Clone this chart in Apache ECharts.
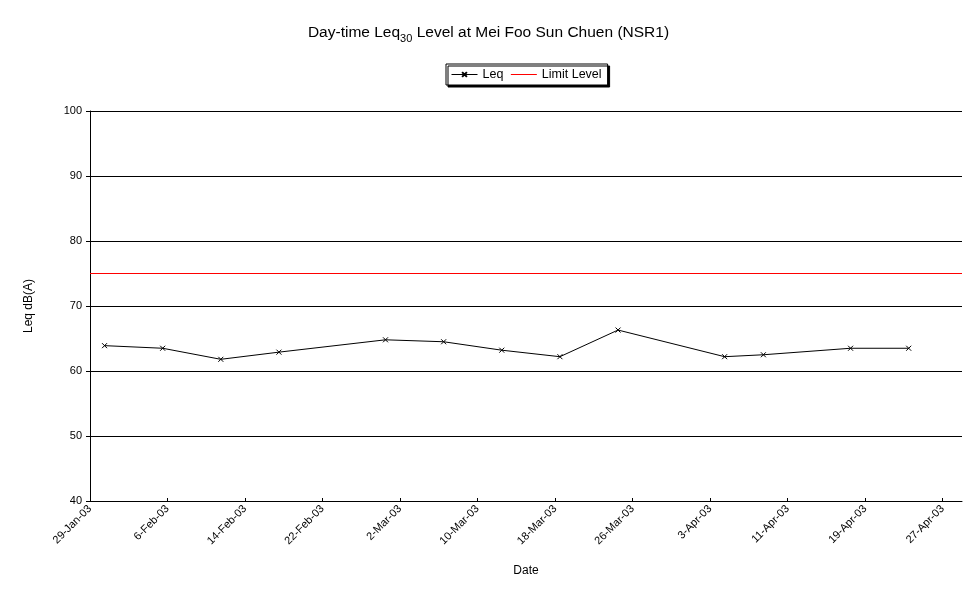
<!DOCTYPE html>
<html><head><meta charset="utf-8">
<script src="https://cdn.jsdelivr.net/npm/echarts@6/dist/echarts.min.js"></script>
<style>html,body{margin:0;padding:0;background:#fff}#c{width:977px;height:599px}</style>
</head><body><div id="c"></div>
<script>
// Data
var startDate = '2003-01-29';
var dates = ['2003-01-30','2003-02-05','2003-02-11','2003-02-17','2003-02-28','2003-03-06','2003-03-12','2003-03-18','2003-03-24','2003-04-04','2003-04-08','2003-04-17','2003-04-23'];
var leq = [63.9, 63.5, 61.8, 62.9, 64.8, 64.5, 63.2, 62.2, 66.3, 62.2, 62.5, 63.5, 63.5];
var limitLevel = 75;
var months = ['Jan','Feb','Mar','Apr','May','Jun','Jul','Aug','Sep','Oct','Nov','Dec'];

function toUTC(s){var p=s.split('-');return Date.UTC(+p[0],+p[1]-1,+p[2]);}
var t0 = toUTC(startDate);
var DAY = 86400000;
function dayOffset(s){return (toUTC(s)-t0)/DAY;}
function fmtDay(v){var d=new Date(t0+v*DAY);return d.getUTCDate()+'-'+months[d.getUTCMonth()]+'-'+String(d.getUTCFullYear()).slice(2);}

var leqData = dates.map(function(d,i){return [dayOffset(d)+0.5, leq[i]];});
var limitData = [[0, limitLevel],[90, limitLevel]];

var FONT = '"Liberation Sans", Arial, sans-serif';
var chart = echarts.init(document.getElementById('c'));
chart.setOption({
  backgroundColor:'#fff',
  animation:false,
  textStyle:{fontFamily:FONT},
  title:{
    text:'{a|Day-time Leq}{s|30}{a| Level at Mei Foo Sun Chuen (NSR1)}',
    left:'center', top:17,
    textStyle:{fontWeight:'normal',rich:{
      a:{fontFamily:FONT,fontSize:15.5,fontWeight:'normal',color:'#000',verticalAlign:'bottom',lineHeight:19},
      s:{fontFamily:FONT,fontSize:11,fontWeight:'normal',color:'#000',verticalAlign:'bottom',lineHeight:15,padding:[0,0,-3,0]}
    }}
  },
  legend:{
    orient:'horizontal',
    left:446, top:64,
    itemGap:7, itemWidth:26, itemHeight:6,
    padding:[4,6,4,5],
    borderColor:'#000', borderWidth:1, backgroundColor:'#fff',
    shadowColor:'#000', shadowOffsetX:2, shadowOffsetY:2, shadowBlur:0,
    lineStyle:{width:1},
    textStyle:{fontFamily:FONT,fontSize:12.5,color:'#000'},
    data:[
      {name:'Leq'},
      {name:'Limit Level', itemStyle:{color:'rgba(0,0,0,0)',borderWidth:0,opacity:0}}
    ]
  },
  grid:{left:90, top:111, right:15, bottom:98, containLabel:false},
  xAxis:{
    type:'value', min:0, max:90, interval:8,
    name:'Date', nameLocation:'middle', nameGap:64,
    nameTextStyle:{fontFamily:FONT,fontSize:12,color:'#000'},
    axisLine:{show:true,onZero:false,lineStyle:{color:'#000',width:1}},
    axisTick:{show:true,inside:true,length:3,lineStyle:{color:'#000'}},
    axisLabel:{rotate:45,fontFamily:FONT,fontSize:11,color:'#000',margin:6,showMaxLabel:false,
      formatter:function(v){return fmtDay(v);}},
    splitLine:{show:false}
  },
  yAxis:{
    type:'value', min:40, max:100, interval:10,
    name:'Leq dB(A)', nameLocation:'middle', nameGap:55, nameRotate:90,
    nameTextStyle:{fontFamily:FONT,fontSize:12,color:'#000'},
    axisLine:{show:true,lineStyle:{color:'#000',width:1}},
    axisTick:{show:true,length:4,lineStyle:{color:'#000'}},
    axisLabel:{fontFamily:FONT,fontSize:11,color:'#000',margin:8},
    splitLine:{show:true,lineStyle:{color:'#000',width:1}}
  },
  series:[
    {name:'Leq', type:'line', data:leqData,
      symbol:'path://M0,0L10,10M10,0L0,10', symbolSize:5,
      itemStyle:{color:'#000',borderColor:'#000',borderWidth:1},
      lineStyle:{color:'#000',width:1}},
    {name:'Limit Level', type:'line', data:limitData, symbol:'none', z:5,
      itemStyle:{color:'#ff0000'},
      lineStyle:{color:'#ff0000',width:1}}
  ]
});
</script></body></html>
